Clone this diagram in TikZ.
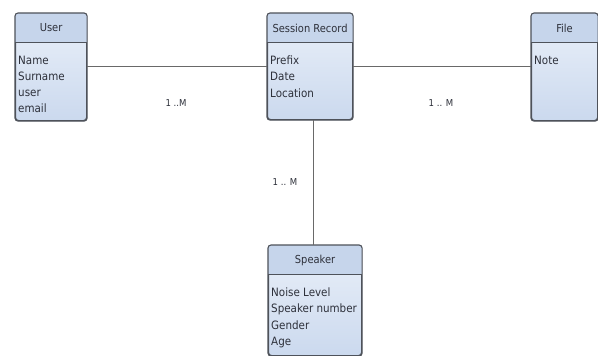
\documentclass[tikz,border=0pt]{standalone}
\usepackage{fontspec}
\setmainfont{DejaVu Sans Condensed}
\definecolor{hdrfill}{RGB}{198,213,235}
\definecolor{bodytop}{RGB}{234,240,249}
\definecolor{bodybot}{RGB}{203,217,238}
\definecolor{edgecol}{RGB}{78,82,90}
\definecolor{linkcol}{RGB}{105,105,105}
\definecolor{txtcol}{RGB}{45,48,58}
\tikzset{
  entity/.style={draw=edgecol, line width=1.1pt, rounded corners=3pt,
    top color=bodytop, bottom color=bodybot, inner sep=0pt, anchor=north west},
  enttitle/.style={font=\fontsize{11}{13}\selectfont, text=txtcol, inner sep=0pt},
  entattr/.style={font=\fontsize{11.5}{16.3}\selectfont, text=txtcol, align=left,
    inner sep=0pt, anchor=north west},
  relation/.style={draw=linkcol, line width=1pt},
  card/.style={font=\fontsize{9.5}{11}\selectfont, text=txtcol, inner sep=0pt}
}
% entity box: name, x, y, width, height, title, attributes
\newcommand\erentity[7]{%
  \node[entity, minimum width=#4pt, minimum height=#5pt] (#1) at (#2,#3) {};
  \begin{scope}
    \clip[rounded corners=3pt] (#1.north west) rectangle (#1.south east);
    \fill[hdrfill] (#1.north west) rectangle ([yshift=-29pt]#1.north east);
  \end{scope}
  \draw[edgecol, line width=1.1pt, rounded corners=3pt] (#1.north west) rectangle (#1.south east);
  \draw[edgecol, line width=0.9pt] ([yshift=-29pt]#1.north west) -- ([yshift=-29pt]#1.north east);
  \node[enttitle] (#1-title) at ([yshift=-15pt]#1.north) {#6};
  \node[entattr] (#1-attrs) at ([xshift=3pt,yshift=-42.5pt]#1.north west) {#7};
}
\begin{document}
\begin{tikzpicture}[x=1pt, y=-1pt]
  \useasboundingbox[fill=white] (0,0) rectangle (598,356);

  \erentity{user}{15}{13}{71}{107}{User}{Name\\Surname\\user\\email}
  \erentity{session}{267}{13}{85}{106}{Session Record}{Prefix\\Date\\Location}
  \erentity{file}{531}{13}{66}{107}{File}{Note}
  \erentity{speaker}{268}{245}{93}{110}{Speaker}{Noise Level\\Speaker number\\Gender\\Age}

  \draw[relation] (user.east |- session.west) -- (session.west);
  \draw[relation] (session.east) -- (file.west |- session.east);
  \draw[relation] ([xshift=3pt]session.south) -- ([xshift=3pt]session.south |- speaker.north);

  \node[card] (card-user) at (176,103) {1 ..M};
  \node[card] (card-file) at (441,103) {1 .. M};
  \node[card] (card-speaker) at (285,182) {1 .. M};
\end{tikzpicture}
\end{document}
